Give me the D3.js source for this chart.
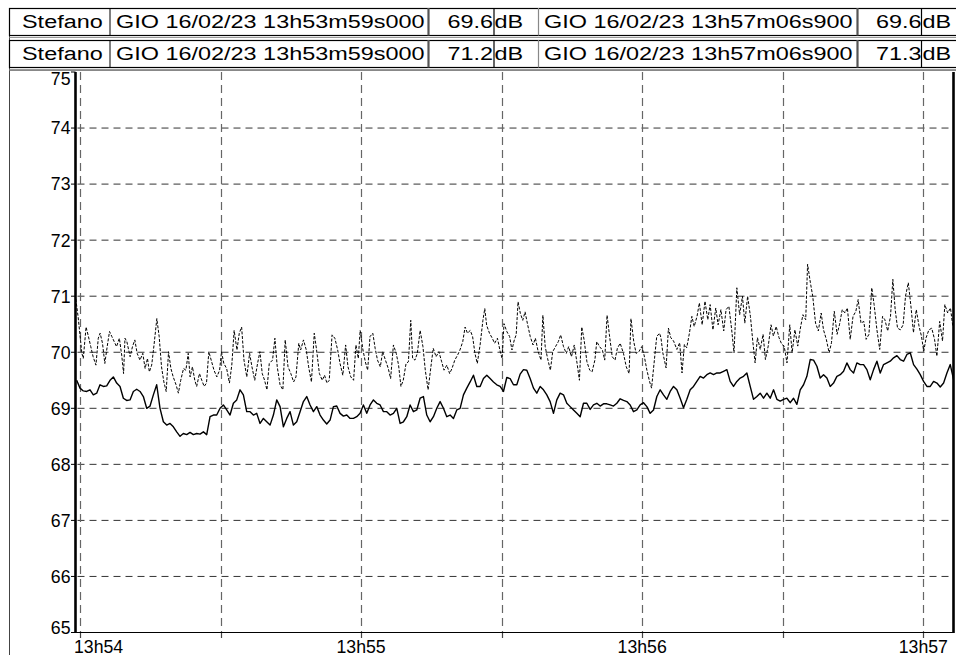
<!DOCTYPE html>
<html><head><meta charset="utf-8">
<script src="https://cdn.jsdelivr.net/npm/d3@7"></script>
<style>
html,body{margin:0;padding:0;background:#fff;}
svg{display:block;font-family:"Liberation Sans",Arial,sans-serif;}
</style></head><body>
<svg id="chart" width="956" height="655"></svg>
<script>
// ---------- header (cursor table) ----------
const rowNames = ["Stefano", "Stefano"];
const cursorStartLabels = ["GIO 16/02/23 13h53m59s000", "GIO 16/02/23 13h53m59s000"];
const cursorStartValues = [69.6, 71.2];
const cursorEndLabels = ["GIO 16/02/23 13h57m06s900", "GIO 16/02/23 13h57m06s900"];
const cursorEndValues = [69.6, 71.3];
const unitLabel = "dB";

// ---------- axes ----------
const yTicks = [65, 66, 67, 68, 69, 70, 71, 72, 73, 74, 75];
const xGridTimes = ["13:54:00", "13:54:30", "13:55:00", "13:55:30", "13:56:00", "13:56:30", "13:57:00"];
const xLabelTimes = ["13:54:00", "13:55:00", "13:56:00", "13:57:00"];
const xLabels = ["13h54", "13h55", "13h56", "13h57"];

// ---------- series 1 (solid): regularly sampled, seconds relative to 13h54m00s ----------
const solidStartSec = -0.71;
const solidStepSec = 0.7117;
const solidValues = [
69.50,69.36,69.31,69.30,69.33,69.24,69.27,69.42,69.39,69.40,
69.50,69.56,69.45,69.39,69.18,69.14,69.15,69.30,69.34,69.30,
69.21,69.00,69.04,69.24,69.42,69.00,68.76,68.70,68.73,68.67,
68.58,68.50,68.55,68.53,68.57,68.53,68.55,68.54,68.58,68.53,
68.85,68.88,68.88,69.00,69.06,68.97,68.88,69.09,69.15,69.33,
69.24,68.94,68.94,68.88,68.91,68.73,68.82,68.76,68.70,68.88,
69.15,69.03,68.67,68.82,68.94,68.70,68.76,68.94,69.12,69.21,
69.06,68.94,69.03,68.88,68.79,68.72,68.79,69.03,69.04,68.91,
68.86,68.88,68.82,68.82,68.85,68.91,
69.06,68.91,69.06,69.15,69.09,69.06,68.94,68.94,68.88,68.91,
69.00,68.73,68.76,68.85,69.06,68.94,68.97,69.18,69.21,68.88,
68.76,68.85,69.00,69.12,69.00,68.85,68.88,68.82,68.97,69.00,
69.24,69.36,69.47,69.59,69.39,69.39,69.53,69.59,69.53,69.47,
69.42,69.39,69.30,69.55,69.53,69.42,69.42,69.61,69.69,69.68,
69.53,69.36,69.27,69.39,69.33,69.24,69.12,68.91,69.15,69.27,
69.24,69.09,69.03,68.97,68.91,68.85,69.09,69.09,68.98,69.06,
69.09,69.04,69.08,69.08,69.06,69.04,69.09,69.17,69.14,69.12,
69.06,68.94,68.97,69.06,69.10,69.03,68.91,68.97,69.21,69.33,
69.24,69.16,69.30,69.39,69.33,69.18,69.01,69.16,69.33,69.39,
69.48,69.57,69.54,69.60,69.63,69.60,69.63,69.63,69.66,69.69,
69.48,69.39,69.48,69.54,69.57,69.63,69.39,69.16,69.21,69.27,
69.18,69.27,69.18,69.33,69.16,69.13,69.16,69.18,69.10,69.18,
69.07,69.33,69.42,69.57,69.87,69.86,69.75,69.54,69.60,69.54,
69.39,69.45,69.57,69.60,69.66,69.81,69.69,69.63,69.81,69.78,
69.78,69.69,69.51,69.69,69.84,69.63,69.78,69.81,69.84,69.90,
69.94,69.87,69.84,69.96,69.99,69.78,69.70,69.60,69.48,69.39,
69.39,69.48,69.45,69.38,69.45,69.63,69.78,69.51
];

// ---------- series 2 (dashed): seconds relative to 13h54m00s, and dB ----------
const dashedTimes = [
-0.9,-0.4,0.4,0.7,1.3,1.8,2.3,2.8,3.4,3.9,
4.3,4.8,5.3,5.8,6.3,6.8,7.3,7.8,8.4,8.9,
9.3,9.6,10.0,10.7,11.2,11.7,12.2,12.8,13.4,13.9,
14.4,14.8,15.3,15.8,16.4,16.9,17.4,17.9,18.4,18.9,
19.4,19.9,20.5,21.0,21.5,22.1,22.6,23.1,23.5,24.0,
24.5,24.9,25.5,26.0,26.5,27.0,27.5,28.1,28.6,29.2,
29.8,30.2,30.7,31.3,31.9,32.4,32.9,33.5,34.0,34.5,
35.0,35.6,36.2,36.7,37.3,37.9,38.4,38.9,39.4,39.9,
40.4,41.1,41.6,42.1,42.7,43.3,43.8,44.4,45.0,45.6,
46.1,46.7,47.1,47.7,48.3,48.8,49.4,50.0,50.5,51.1,
51.7,52.2,52.7,53.2,53.8,54.4,55.0,55.5,56.1,56.7,
57.2,57.8,58.4,58.9,59.4,
59.8,60.4,60.9,61.4,61.9,62.5,63.0,63.5,64.1,64.6,
65.2,65.8,66.3,66.9,67.5,68.0,68.5,69.0,69.6,70.1,
70.6,71.0,71.5,72.0,72.6,73.2,73.7,74.3,74.9,75.4,
76.0,76.6,77.2,77.7,78.3,78.9,79.4,80.0,80.6,81.1,
81.7,82.2,82.7,83.3,83.8,84.3,84.8,85.4,86.0,86.4,
86.8,87.4,88.0,88.5,89.1,89.7,90.1,90.5,91.1,91.7,
92.2,92.7,93.1,93.5,94.0,94.5,95.0,95.5,96.1,96.7,
97.2,97.8,98.4,98.8,99.3,99.8,100.4,100.9,101.5,102.1,
102.6,103.2,103.8,104.3,104.9,105.5,106.1,106.6,107.1,107.6,
108.2,108.8,109.3,109.9,110.3,110.9,111.5,112.0,112.5,113.0,
113.6,114.2,114.7,115.3,116.0,116.6,117.2,117.6,118.2,118.7,
119.3,119.9,120.4,121.0,121.6,122.0,122.6,123.1,123.7,
124.0,124.4,125.1,125.6,126.1,126.7,127.4,128.0,128.5,129.0,
129.5,130.1,130.6,131.1,131.7,132.2,132.8,133.4,134.0,134.5,
135.1,135.7,136.2,136.8,137.4,137.9,138.5,139.1,139.6,140.2,
140.8,141.4,141.9,142.5,143.1,143.6,144.1,144.6,145.2,145.8,
146.3,146.9,147.5,148.0,148.6,149.2,149.8,150.3,150.9,151.5,
152.0,152.6,153.2,153.7,154.3,154.9,155.3,155.9,156.4,157.0,
157.6,158.2,158.7,159.3,159.9,160.4,161.0,161.6,162.1,162.7,
163.3,163.8,164.4,165.0,165.6,166.1,166.7,167.3,167.8,168.4,
169.0,169.5,170.1,170.7,171.3,171.8,172.4,173.0,173.5,174.0,
174.5,175.1,175.7,176.2,176.8,177.4,177.9,178.5,179.1,179.6,
180.1,180.6,181.2,181.8,182.4,182.9,183.5,184.1,184.6,185.2,
185.8,186.3
];
const dashedValues = [
70.95,70.63,69.98,69.89,70.45,70.28,70.10,69.92,69.77,70.25,
70.34,70.16,69.80,70.10,70.37,70.28,70.19,70.10,70.25,69.95,
69.62,70.25,70.19,69.92,70.10,70.22,69.98,69.86,69.98,69.71,
69.89,69.65,69.77,70.13,70.60,70.28,69.74,69.47,69.30,70.01,
69.71,69.56,69.42,69.27,69.50,69.71,69.68,69.98,69.56,69.74,
69.50,69.39,69.62,69.50,69.39,69.45,70.01,69.83,69.68,69.56,
69.68,70.01,69.80,69.71,69.45,69.77,70.39,70.04,70.34,70.45,
69.86,69.56,69.98,69.74,69.50,69.80,70.01,69.62,69.50,69.33,
69.80,69.86,70.25,69.74,69.42,69.33,70.22,69.74,69.62,69.47,
69.56,70.16,70.04,70.22,70.04,69.74,69.47,70.34,70.04,69.62,
69.50,69.59,69.45,69.50,70.31,70.25,70.04,69.80,69.59,70.13,
69.74,69.56,69.50,70.13,69.89,
70.39,70.04,69.83,69.68,70.28,70.34,70.07,69.86,69.74,70.01,
69.86,69.71,69.53,70.13,69.98,69.77,69.39,69.50,69.80,69.83,
70.57,69.89,69.86,69.98,70.39,70.10,69.68,69.33,69.74,70.07,
69.92,70.01,69.83,69.68,69.77,69.62,69.71,69.86,69.95,70.04,
70.19,70.45,70.34,70.39,70.28,69.98,69.80,70.13,70.57,70.78,
70.48,70.34,70.25,70.16,70.25,70.01,69.89,70.51,70.37,70.28,
70.04,70.22,70.31,70.90,70.69,70.57,70.72,70.51,70.28,70.13,
70.25,70.01,69.86,70.66,70.10,69.89,69.68,70.01,70.10,70.19,
70.31,70.10,69.98,70.10,69.92,70.13,69.80,69.50,70.45,70.22,
69.83,69.68,69.65,69.86,70.19,70.10,70.04,69.86,70.66,70.31,
69.92,69.86,70.07,70.16,69.98,69.74,69.62,70.60,70.19,69.98,
70.01,70.10,69.95,69.68,69.47,69.36,69.86,70.28,70.34,
70.26,69.99,69.72,70.43,70.26,70.20,70.05,70.17,69.63,70.14,
70.08,70.35,70.64,70.46,70.64,70.88,70.49,70.91,70.58,70.85,
70.40,70.79,70.49,70.76,70.38,70.76,70.82,70.40,69.99,71.15,
70.67,71.00,70.52,71.00,70.64,70.20,69.81,70.26,70.05,70.32,
69.87,70.11,70.49,70.29,70.46,70.26,70.14,70.11,69.81,70.49,
69.99,70.40,70.11,70.40,70.67,70.58,71.57,71.24,71.00,70.52,
70.38,70.70,70.40,70.23,69.99,70.17,70.73,70.32,70.49,70.76,
70.70,70.79,70.23,70.64,70.73,70.94,70.52,70.55,70.23,70.32,
71.15,70.85,70.40,70.05,70.64,70.58,70.38,70.64,71.30,70.76,
70.43,70.40,70.49,71.00,71.24,70.79,70.35,70.76,70.46,70.29,
70.02,70.26,70.40,70.43,70.23,69.93,70.55,70.20,70.85,70.70,
70.79,70.46
];

// ---------- drawing ----------
const svg = d3.select("#chart");
const W = 956, H = 655;
const P = {left: 75.5, right: 954, top: 72, bottom: 632.5};

const baseDay = [2023, 1, 16];
const parseClock = s => { const [h, m, sec] = s.split(":").map(Number); return new Date(baseDay[0], baseDay[1], baseDay[2], h, m, sec); };
const ref = parseClock("13:54:00");
const fromSec = s => new Date(ref.getTime() + s * 1000);

const x = d3.scaleTime().domain([parseClock("13:54:00"), parseClock("13:57:00")]).range([80, 923.3]);
const y = d3.scaleLinear().domain([65, 75]).range([P.bottom, P.top]);

svg.append("rect").attr("width", W).attr("height", H).attr("fill", "#fff");

// panel left border
svg.append("line").attr("x1", 9.5).attr("x2", 9.5).attr("y1", 8).attr("y2", H).attr("stroke", "#444").attr("stroke-width", 1);

// ---- header table ----
const rowsY = [8, 40];
const rowH = 27;
const SX = 1.26, FS = 18.6;
const hdr = svg.append("g");
function htext(str, xp, yp, anchor) {
  hdr.append("text").attr("transform", `translate(${xp},${yp}) scale(${SX},1)`)
    .attr("text-anchor", anchor).attr("font-size", FS).attr("fill", "#000").text(str);
}
rowNames.forEach((nm, i) => {
  const y0 = rowsY[i];
  hdr.append("rect").attr("x", 9.5).attr("y", y0 + 0.5).attr("width", W).attr("height", rowH).attr("fill", "#fff").attr("stroke", "#000").attr("stroke-width", 1.2);
  // cell separators
  [[110, "#000", 1], [428.5, "#555", 2.2], [494, "#000", 1.2], [538.5, "#888", 1.2], [857.5, "#555", 2.2], [921.5, "#000", 1.2]].forEach(([sx, c, w]) => {
    hdr.append("line").attr("x1", sx).attr("x2", sx).attr("y1", y0).attr("y2", y0 + rowH + 0.5).attr("stroke", c).attr("stroke-width", w);
  });
  // shadow line under row
  hdr.append("line").attr("x1", 9.5).attr("x2", W).attr("y1", y0 + rowH + 2.5).attr("y2", y0 + rowH + 2.5).attr("stroke", "#999").attr("stroke-width", 1.2);
  const base = y0 + 20.3;
  htext(nm, 22, base, "start");
  htext(cursorStartLabels[i], 116, base, "start");
  htext(cursorStartValues[i].toFixed(1), 493, base, "end");
  htext(unitLabel, 494.5, base, "start");
  htext(cursorEndLabels[i], 544, base, "start");
  htext(cursorEndValues[i].toFixed(1), 921.5, base, "end");
  htext(unitLabel, 922.5, base, "start");
});

// ---- grid ----
const grid = svg.append("g");
yTicks.filter(v => v > 65 && v < 75).forEach(v => {
  grid.append("line").attr("x1", P.left + 2).attr("x2", P.right).attr("y1", y(v)).attr("y2", y(v))
    .attr("stroke", "#333").attr("stroke-width", 1).attr("stroke-dasharray", "7,5");
});
xGridTimes.forEach(t => {
  const xp = Math.round(x(parseClock(t))) + 0.5;
  grid.append("line").attr("x1", xp).attr("x2", xp).attr("y1", P.top).attr("y2", P.bottom)
    .attr("stroke", "#666").attr("stroke-width", 1.2).attr("stroke-dasharray", "8,5");
  grid.append("line").attr("x1", xp).attr("x2", xp).attr("y1", P.bottom).attr("y2", P.bottom + 5.5)
    .attr("stroke", "#444").attr("stroke-width", 1.2);
});

// ---- series ----
const clip = svg.append("clipPath").attr("id", "plotclip").append("rect")
  .attr("x", P.left).attr("y", P.top - 2).attr("width", P.right - P.left).attr("height", P.bottom - P.top + 2);

const solidData = solidValues.map((v, i) => ({t: fromSec(solidStartSec + i * solidStepSec), v}));
const dashedData = dashedTimes.map((s, i) => ({t: fromSec(s), v: dashedValues[i]}));
const line = d3.line().x(d => x(d.t)).y(d => y(d.v));

const series = svg.append("g").attr("clip-path", "url(#plotclip)");
series.append("path").datum(dashedData).attr("d", line).attr("fill", "none")
  .attr("stroke", "#000").attr("stroke-width", 1).attr("stroke-dasharray", "3,1.6");
series.append("path").datum(solidData).attr("d", line).attr("fill", "none")
  .attr("stroke", "#000").attr("stroke-width", 1.4).attr("stroke-linejoin", "round");

// ---- axes ----
const ax = svg.append("g");
ax.append("line").attr("x1", P.left).attr("x2", P.right).attr("y1", P.bottom).attr("y2", P.bottom).attr("stroke", "#000").attr("stroke-width", 1.2);
ax.append("line").attr("x1", P.left).attr("x2", P.left).attr("y1", P.top).attr("y2", P.bottom + 0.5).attr("stroke", "#000").attr("stroke-width", 2.6);
ax.append("line").attr("x1", P.right - 0.5).attr("x2", P.right - 0.5).attr("y1", P.top).attr("y2", P.bottom + 0.5).attr("stroke", "#000").attr("stroke-width", 2.6);

yTicks.forEach((v, i) => {
  const yp = y(v);
  ax.append("line").attr("x1", P.left - 4.5).attr("x2", P.left).attr("y1", yp).attr("y2", yp).attr("stroke", "#000").attr("stroke-width", 1);
  const shift = (i === yTicks.length - 1) ? 7 : (i === 0 ? -5 : 0);
  ax.append("text").attr("x", 70.5).attr("y", yp + shift).attr("dy", "0.36em")
    .attr("text-anchor", "end").attr("font-size", 17.7).attr("fill", "#000").text(v);
});

xLabelTimes.forEach((t, i) => {
  const xp = x(parseClock(t));
  const first = i === 0;
  ax.append("text").attr("x", first ? xp - 6 : xp).attr("y", 652.5)
    .attr("text-anchor", first ? "start" : "middle").attr("font-size", 17.7).attr("fill", "#000").text(xLabels[i]);
});

// gray line under the header, above the plot
svg.append("line").attr("x1", 9.5).attr("x2", W).attr("y1", 70.5).attr("y2", 70.5).attr("stroke", "#888").attr("stroke-width", 1);
</script>
</body></html>
